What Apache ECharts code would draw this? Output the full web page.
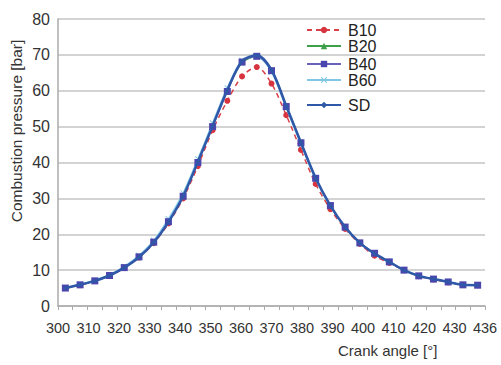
<!DOCTYPE html>
<html>
<head>
<meta charset="utf-8">
<script src="https://cdn.jsdelivr.net/npm/echarts@6/dist/echarts.min.js"></script>
<style>html,body{margin:0;padding:0;background:#fff}#c{width:501px;height:365px}</style>
</head>
<body>
<div id="c"></div>
<script>
// crank angle categories (one per data point)
const angles = ['302','307','312','317','322','327','332','337','342','347','352','357','362','367','372','377','382','387','392','397','402','407','412','417','422','427','432','437','442'];
// axis tick labels shown under the plot
const tickLabels = ['300','310','320','330','340','350','360','370','380','390','400','410','420','430','436'];
const yTicks = [0, 80, 10];

const B10 = [5.0,5.8,7.0,8.4,10.6,13.5,17.5,23.0,30.0,39.0,49.0,57.2,64.0,66.6,62.0,53.2,43.5,34.0,27.0,21.5,17.3,14.0,12.0,10.0,8.3,7.4,6.6,5.9,5.8];
const B20 = [5.0,5.9,7.1,8.5,10.7,13.7,17.8,23.6,30.8,40.3,50.3,60.3,67.8,69.6,65.8,55.8,45.6,35.6,28.0,22.0,17.6,14.6,12.3,10.0,8.4,7.5,6.7,5.9,5.8];
const B40 = [5.0,5.9,7.0,8.5,10.7,13.7,17.8,23.5,30.6,40.0,50.0,59.8,68.0,69.6,65.6,55.6,45.5,35.6,28.0,22.0,17.6,14.7,12.3,10.0,8.4,7.5,6.7,5.9,5.8];
const B60 = [5.1,6.0,7.2,8.7,11.0,14.1,18.3,24.3,31.5,41.0,51.0,60.8,68.4,69.4,65.2,55.2,45.0,35.3,27.8,21.9,17.5,14.5,12.2,10.0,8.4,7.5,6.7,5.9,5.8];
const SD  = [5.0,5.9,7.0,8.5,10.7,13.6,17.7,23.4,30.6,40.2,50.2,60.2,68.3,69.9,65.8,55.8,45.6,35.7,28.0,22.0,17.6,14.6,12.3,10.0,8.4,7.5,6.7,5.9,5.8];

const FONT = 'Liberation Sans, Arial, sans-serif';
const chart = echarts.init(document.getElementById('c'), null, {renderer: 'svg'});

function leg(name, top) {
  return {data: [name], left: 306, top: top, padding: 0, itemWidth: 34, itemHeight: 8, itemGap: 0,
    textStyle: {fontFamily: FONT, fontSize: 16, color: '#222', padding: [0, 0, 0, 2]}};
}

chart.setOption({
  animation: false,
  backgroundColor: '#fff',
  grid: {left: 58, top: 19, right: 16, bottom: 59},
  legend: [leg('B10', 22), leg('B20', 38), leg('B40', 56), leg('B60', 72), leg('SD', 97)],
  xAxis: [
    {type: 'category', data: angles, boundaryGap: true,
     axisLine: {lineStyle: {color: '#aaaaaa', width: 1.5}},
     axisTick: {show: true, interval: 0, length: 4, lineStyle: {color: '#aaaaaa'}},
     axisLabel: {show: false}, splitLine: {show: false}},
    {type: 'category', data: tickLabels, boundaryGap: false, position: 'bottom',
     axisLine: {show: false}, axisTick: {show: false}, splitLine: {show: false},
     axisLabel: {interval: 0, margin: 14, fontFamily: FONT, fontSize: 14.5, color: '#333'}}
  ],
  yAxis: {type: 'value', min: yTicks[0], max: yTicks[1], interval: yTicks[2],
    axisLine: {show: true, lineStyle: {color: '#aaaaaa', width: 1.5}},
    axisTick: {show: false},
    axisLabel: {margin: 8, fontFamily: FONT, fontSize: 16, color: '#333'},
    splitLine: {lineStyle: {color: '#c4c4c4', width: 1.5}}},
  graphic: [
    {type: 'text', left: 338, top: 343,
     style: {text: 'Crank angle [°]', fontFamily: FONT, fontSize: 15, fill: '#333'}},
    {type: 'text', x: 16, y: 131, rotation: Math.PI / 2,
     style: {text: 'Combustion pressure [bar]', fontFamily: FONT, fontSize: 15.5, fill: '#333',
             align: 'center', verticalAlign: 'middle'}}
  ],
  series: [
    {name: 'B10', type: 'line', data: B10, xAxisIndex: 0, smooth: 0.3, symbol: 'circle', symbolSize: 6,
     lineStyle: {color: '#d8404a', width: 1.5, type: [5, 4]}, itemStyle: {color: '#d8343f'}, z: 2},
    {name: 'B20', type: 'line', data: B20, smooth: 0.3, symbol: 'triangle', symbolSize: 5,
     lineStyle: {color: '#3ea14a', width: 1.5}, itemStyle: {color: '#3ea14a'}, z: 3},
    {name: 'B40', type: 'line', data: B40, smooth: 0.3, symbol: 'rect', symbolSize: 7,
     lineStyle: {color: '#6a62b8', width: 1.5}, itemStyle: {color: '#4a46ad'}, z: 5},
    {name: 'B60', type: 'line', data: B60, smooth: 0.3,
     symbol: 'path://M0,1L1,0L5,4L9,0L10,1L6,5L10,9L9,10L5,6L1,10L0,9L4,5Z', symbolSize: 6,
     lineStyle: {color: '#7fc6e6', width: 1.5}, itemStyle: {color: '#7fc6e6'}, z: 4},
    {name: 'SD', type: 'line', data: SD, smooth: 0.3, symbol: 'diamond', symbolSize: 4,
     lineStyle: {color: '#2f58a8', width: 2.5}, itemStyle: {color: '#2f58a8'}, z: 6}
  ]
});
</script>
</body>
</html>
